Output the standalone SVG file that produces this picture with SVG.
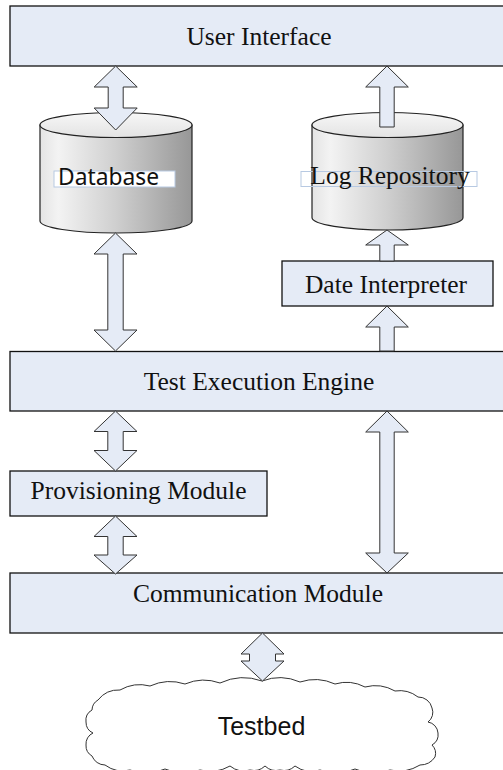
<svg xmlns="http://www.w3.org/2000/svg" width="503" height="770" viewBox="0 0 503 770">
<style>
.box{fill:#e5ebf6;stroke:#111;stroke-width:1.3}
.arr{fill:#e5ebf6;stroke:#333;stroke-width:1}
.t{font-family:"Liberation Serif","Times New Roman",serif;font-size:25.5px;fill:#111;text-anchor:middle}
.s{font-family:"Liberation Sans",Arial,sans-serif;font-size:25px;fill:#111;text-anchor:middle}
.cyl{fill:url(#body);stroke:#222;stroke-width:1.2}
.cyltop{fill:url(#top);stroke:#222;stroke-width:1.2}
</style>
<defs>
<linearGradient id="body" x1="0" y1="0" x2="1" y2="0">
<stop offset="0" stop-color="#e4e4e4"/>
<stop offset="0.12" stop-color="#f3f3f3"/>
<stop offset="0.5" stop-color="#cfcfcf"/>
<stop offset="1" stop-color="#979797"/>
</linearGradient>
<linearGradient id="top" x1="0" y1="0" x2="0" y2="1">
<stop offset="0" stop-color="#f7f7f7"/>
<stop offset="1" stop-color="#e3e3e3"/>
</linearGradient>
</defs>
<rect width="503" height="770" fill="#fff"/>

<g id="user-interface">
<rect class="box" x="10" y="6" width="496" height="60"/>
<text class="t" x="259" y="45">User Interface</text>
</g>

<g id="database">
<path class="cyl" d="M40,125 V221 A76,12 0 0 0 192,221 V125 Z"/>
<ellipse class="cyltop" cx="116" cy="125" rx="76" ry="12.5"/>
<rect x="54" y="171" width="121" height="16" fill="#fff" stroke="#b7c9e2" stroke-width="1"/>
<text x="58" y="185" font-family="'Noto Sans','Liberation Sans',sans-serif" font-size="23" fill="#111" textLength="101" lengthAdjust="spacingAndGlyphs">Database</text>
</g>

<g id="log-repository">
<path class="cyl" d="M312,125 V217.5 A75.5,12.5 0 0 0 463,217.5 V125 Z"/>
<ellipse class="cyltop" cx="387.5" cy="125" rx="75.5" ry="12.5"/>
<rect x="301" y="171.5" width="176" height="15" fill="none" stroke="#b7c9e2" stroke-width="1"/>
<text class="t" x="390" y="184">Log Repository</text>
</g>

<g id="date-interpreter">
<rect class="box" x="282" y="261" width="211" height="45"/>
<text class="t" x="386" y="293">Date Interpreter</text>
</g>

<g id="test-execution-engine">
<rect class="box" x="10" y="351.5" width="496" height="59.5"/>
<text class="t" x="259" y="390">Test Execution Engine</text>
</g>

<g id="provisioning-module">
<rect class="box" x="10" y="471" width="257" height="45"/>
<text class="t" x="138.5" y="499">Provisioning Module</text>
</g>

<g id="communication-module">
<rect class="box" x="10" y="573" width="496" height="60"/>
<text class="t" x="258" y="601.5">Communication Module</text>
</g>

<g id="testbed">
<path fill="#fff" stroke="#333" stroke-width="1" d="M98,700 A26,26 0 0 1 120,690 A40,40 0 0 1 150,686 A48,48 0 0 1 185,684 A48,48 0 0 1 220,683 A55,55 0 0 1 262,681 A50,50 0 0 1 300,682 A48,48 0 0 1 335,684 A40,40 0 0 1 365,687 A40,40 0 0 1 395,691 A30,30 0 0 1 418,697 A14,14 0 0 1 432,708 A12,12 0 0 1 428,722 A12,12 0 0 1 438,733 A12,12 0 0 1 432,745 A12,12 0 0 1 435,757 A18,18 0 0 1 420,765 A40,40 0 0 1 390,770 A48,48 0 0 1 355,769 A48,48 0 0 1 320,770 A28,28 0 0 1 295,766 A16,16 0 0 1 280,770 A16,16 0 0 1 265,766 A16,16 0 0 1 250,770 A22,22 0 0 1 230,766 A40,40 0 0 1 200,770 A48,48 0 0 1 165,769 A48,48 0 0 1 130,770 A30,30 0 0 1 105,765 A14,14 0 0 1 92,756 A12,12 0 0 1 86,745 A12,12 0 0 1 93,733 A12,12 0 0 1 86,722 A12,12 0 0 1 92,710 A12,12 0 0 1 98,700 Z"/>
<text class="s" x="261.5" y="735">Testbed</text>
</g>

<g id="connectors">
<polygon class="arr" points="115.7,66 137.2,87 123.2,87 123.2,108 137.2,108 115.7,130 94.2,108 108.2,108 108.2,87 94.2,87"/>
<polygon class="arr" points="115.5,233 137,254 123.2,254 123.2,330 137,330 115.5,351 94,330 107.8,330 107.8,254 94,254"/>
<polygon class="arr" points="115.5,411 137,431.5 123.2,431.5 123.2,450.5 137,450.5 115.5,471 94,450.5 107.8,450.5 107.8,431.5 94,431.5"/>
<polygon class="arr" points="115.5,516 137,536.5 123.2,536.5 123.2,555 137,555 115.5,574 94,555 107.8,555 107.8,536.5 94,536.5"/>
<polygon class="arr" points="387,411 408.3,432 394.2,432 394.2,553 408.3,553 387,573 365.7,553 379.8,553 379.8,432 365.7,432"/>
<polygon class="arr" points="387,66 408.3,87 394.2,87 394.2,127 379.8,127 379.8,87 365.7,87"/>
<polygon class="arr" points="387,230 408.3,245 394.2,245 394.2,261 379.8,261 379.8,245 365.7,245"/>
<polygon class="arr" points="387,306 408.3,327 394.2,327 394.2,351 379.8,351 379.8,327 365.7,327"/>
<polygon class="arr" points="262.5,633 284,654 275.5,654 275.5,661 284,661 262.5,681 241,661 249.5,661 249.5,654 241,654"/>
</g>
</svg>
